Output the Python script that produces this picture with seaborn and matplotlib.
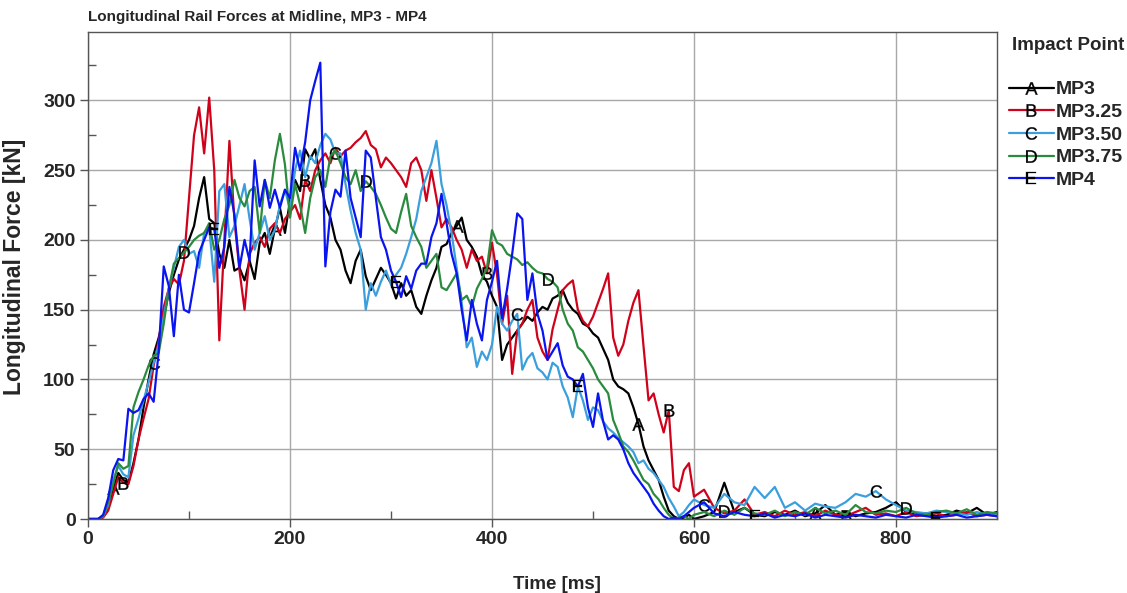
import numpy as np
import pandas as pd
import matplotlib
matplotlib.use("Agg")
import matplotlib.pyplot as plt
from matplotlib.ticker import MultipleLocator
import seaborn as sns

# time grid: 5 ms steps up to 600 ms, then 10 ms steps up to 900 ms
time_ms = list(range(0, 601, 5)) + list(range(610, 901, 10))

# Longitudinal force [kN]
mp3 = [0, 0, 0, 2, 8, 22, 33, 28, 26, 40,
       57, 80, 100, 118, 130, 145, 162, 175, 186, 193,
       200, 210, 230, 245, 215, 212, 190, 180, 200, 178,
       180, 171, 185, 172, 198, 205, 190, 208, 223, 205,
       228, 243, 235, 265, 258, 265, 243, 225, 216, 200,
       193, 178, 169, 185, 193, 174, 164, 172, 180, 175,
       169, 158, 169, 160, 164, 152, 147, 160, 171, 180,
       195, 197, 205, 210, 216, 200, 195, 188, 175, 170,
       160, 152, 114, 125, 130, 135, 140, 145, 142, 148,
       152, 150, 158, 160, 164, 155, 150, 147, 140, 138,
       133, 130, 122, 114, 100, 95, 93, 90, 80, 68,
       52, 42, 35, 28, 16, 6, 2, 0, 1, 3,
       0,
       2, 5, 26, 5, 8, 3, 2, 5, 3, 6,
       2, 4, 10, 3, 5, 2, 4, 5, 8, 12,
       5, 3, 4, 2, 3, 6, 4, 8, 3, 5]

mp3_25 = [0, 0, 0, 1, 6, 18, 30, 26, 25, 38,
          57, 72, 86, 110, 128, 152, 165, 172, 168, 185,
          230, 275, 295, 262, 302, 250, 128, 200, 271, 214,
          178, 150, 190, 198, 202, 195, 208, 212, 205, 215,
          220, 225, 215, 243, 235, 250, 257, 262, 255, 266,
          260, 264, 266, 270, 273, 278, 268, 265, 252, 259,
          255, 250, 245, 238, 255, 259, 250, 228, 250, 230,
          209, 215, 209, 200, 193, 180, 193, 185, 188, 176,
          198, 175, 140, 160, 104, 135, 140, 150, 157, 130,
          120, 114, 136, 150, 164, 168, 171, 150, 142, 138,
          145, 155, 165, 176, 130, 117, 125, 142, 155, 164,
          124, 85, 90, 75, 62, 78, 23, 20, 35, 40,
          16,
          21, 8, 4, 6, 14, 3, 5, 2, 6, 3,
          5, 2, 6, 3, 2, 5, 8, 3, 4, 2,
          5, 2, 3, 4, 2, 3, 5, 2, 3, 2]

mp3_50 = [0, 0, 0, 2, 10, 28, 38, 32, 30, 60,
          72, 85, 98, 112, 125, 145, 165, 180, 195, 200,
          190, 192, 180, 205, 209, 170, 235, 240, 202, 210,
          225, 240, 215, 193, 205, 217, 200, 207, 225, 236,
          222, 250, 264, 245, 260, 255, 268, 276, 272, 262,
          262, 240, 221, 205, 193, 150, 169, 160, 170, 178,
          168, 175, 180, 190, 202, 215, 235, 245, 255, 271,
          240, 225, 205, 180, 155, 123, 130, 109, 120, 114,
          125, 152, 140, 135, 142, 147, 107, 115, 119, 108,
          105, 100, 112, 109, 95, 87, 73, 95, 85, 71,
          80, 78, 70, 65, 62, 58, 55, 52, 48, 40,
          42, 36, 33, 28, 23, 15, 9, 2, 5, 10,
          14,
          10, 8, 18, 12, 10, 23, 15, 23, 8, 12,
          6, 11, 9, 8, 12, 18, 16, 20, 14, 10,
          6, 5, 4, 6, 5, 4, 3, 5, 3, 4]

mp3_75 = [0, 0, 0, 2, 12, 25, 40, 36, 38, 80,
          91, 100, 110, 117, 119, 140, 165, 183, 187, 191,
          195, 200, 203, 205, 212, 193, 200, 215, 225, 243,
          230, 224, 235, 238, 205, 243, 230, 257, 276, 254,
          216, 240, 225, 205, 230, 245, 250, 238, 260, 264,
          255, 245, 240, 250, 235, 242, 238, 233, 225, 216,
          208, 205, 220, 233, 210, 202, 195, 180, 185, 190,
          166, 164, 170, 176, 157, 160, 152, 165, 172, 180,
          207, 198, 196, 190, 188, 186, 182, 184, 180, 177,
          176, 172, 170, 166, 150, 140, 135, 123, 120, 114,
          108, 100, 95, 90, 71, 62, 52, 48, 42, 35,
          28, 25, 18, 14, 8, 3, 0, 1, 2, 0,
          3,
          5, 2, 6, 3, 8, 4, 3, 6, 2, 5,
          3, 8, 4, 6, 3, 10, 5, 4, 6, 5,
          8, 4, 3, 5, 6, 4, 7, 3, 5, 4]

mp4 = [0, 0, 0, 3, 15, 35, 43, 42, 79, 76,
       78, 86, 90, 84, 120, 181, 167, 131, 175, 150,
       148, 169, 191, 200, 209, 208, 180, 195, 238, 218,
       180, 200, 185, 257, 224, 243, 223, 236, 223, 236,
       230, 266, 250, 270, 300, 314, 327, 181, 220, 236,
       231, 264, 230, 216, 202, 264, 259, 230, 202, 193,
       178, 170, 159, 174, 165, 178, 183, 183, 202, 212,
       233, 212, 190, 176, 150, 128, 157, 140, 128, 157,
       170, 185, 144, 165, 190, 219, 215, 157, 176, 147,
       135, 114, 120, 126, 110, 102, 100, 95, 104, 80,
       66, 90, 70, 57, 60, 57, 50, 40, 33, 28,
       23, 18, 11, 6, 2, 0, 1, 0, 2, 5,
       8,
       12, 4, 2, 5, 3, 2, 4, 1, 3, 2,
       4, 1, 3, 2, 1, 3, 2, 1, 3, 2,
       1, 3, 2, 1, 2, 3, 1, 2, 3, 2]

series_names = ["MP3", "MP3.25", "MP3.50", "MP3.75", "MP4"]
series_letters = ["A", "B", "C", "D", "E"]
series_values = [mp3, mp3_25, mp3_50, mp3_75, mp4]
series_colors = ["#000000", "#d0021b", "#3a9fdc", "#2a8a3e", "#0a14f0"]
# indices of time_ms where the curve letter is drawn
letter_index = [[5, 37, 73, 109, 132],
                [7, 43, 79, 115, 135],
                [13, 49, 85, 121, 138],
                [19, 55, 91, 123, 141],
                [25, 61, 97, 126, 144]]

sns.set_theme(style="white")
plt.rcParams["font.family"] = ["Liberation Sans", "DejaVu Sans"]

fig = plt.figure(figsize=(11.27, 5.93), dpi=100)
ax = fig.add_axes([88 / 1127, 74 / 593, 909 / 1127, 487 / 593])

for name, letter, vals, col, marks in zip(series_names, series_letters,
                                          series_values, series_colors, letter_index):
    df = pd.DataFrame({"t": time_ms, "F": vals})
    sns.lineplot(data=df, x="t", y="F", ax=ax, color=col, lw=1.6,
                 estimator=None, sort=False, legend=False, label=name,
                 marker=r"$\mathregular{" + letter + "}$", markevery=marks,
                 markersize=9, markerfacecolor="black", markeredgecolor="black",
                 markeredgewidth=0.2)

ax.set_xlim(0, 900)
ax.set_ylim(0, 349)
ax.xaxis.set_major_locator(MultipleLocator(200))
ax.xaxis.set_minor_locator(MultipleLocator(100))
ax.yaxis.set_major_locator(MultipleLocator(50))
ax.yaxis.set_minor_locator(MultipleLocator(25))
ax.tick_params(which="major", direction="out", length=6, width=1, color="#555555",
               labelsize=14, left=True, bottom=True, pad=3)
ax.tick_params(which="minor", direction="in", length=6, width=1, color="#555555",
               left=True, bottom=True)
for lab in ax.get_xticklabels() + ax.get_yticklabels():
    lab.set_fontweight("bold")
ax.grid(True, which="major", color="#a8a8a8", lw=1)
ax.set_axisbelow(True)
for sp in ax.spines.values():
    sp.set_color("#555555")
    sp.set_linewidth(1)

ax.set_xlabel("Time [ms]", fontsize=13.5, fontweight="bold")
ax.xaxis.set_label_coords(0.516, -0.118)
ax.set_ylabel("Longitudinal Force [kN]", fontsize=16.5, fontweight="bold")
ax.yaxis.set_label_coords(-0.068, 0.517)
ax.set_title("Longitudinal Rail Forces at Midline, MP3 - MP4", loc="left",
             fontsize=11, fontweight="bold", pad=8)

fig.text(1012 / 1127, 1 - 46 / 593, "Impact Point", fontsize=13.5,
         fontweight="bold", va="center", ha="left")
handles, labels = ax.get_legend_handles_labels()
ax.legend(handles, labels, loc="upper left", bbox_to_anchor=(1.013, 0.9),
          frameon=False, prop={"weight": "bold", "size": 14},
          handlelength=2.3, handletextpad=0.1, labelspacing=0.26,
          borderaxespad=0, borderpad=0)

fig.savefig("out.png", dpi=100)
